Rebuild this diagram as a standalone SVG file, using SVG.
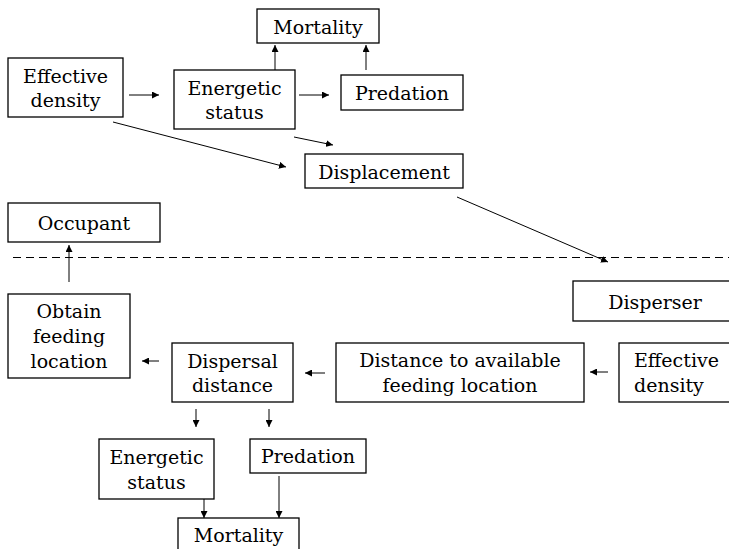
<svg xmlns="http://www.w3.org/2000/svg" width="729" height="549" viewBox="0 0 729 549">
<defs>
<marker id="ah" viewBox="0 0 10 10" refX="10" refY="5" markerWidth="7" markerHeight="7" markerUnits="userSpaceOnUse" orient="auto">
<path d="M0,0 L10,5 L0,10 z" fill="#000"/>
</marker>
</defs>
<rect x="0" y="0" width="729" height="549" fill="#fff"/>
<line x1="13" y1="257.5" x2="729" y2="257.5" stroke="#000" stroke-width="1" stroke-dasharray="8 5"/>
<g fill="#fff" stroke="#000" stroke-width="1.3">
<g id="mortality-top"><rect x="257" y="9" width="122" height="34"/><text font-family="DejaVu Serif" font-size="19" text-anchor="middle" fill="#000" stroke="none" x="318" y="34">Mortality</text></g>
<g id="effective-density-top"><rect x="8" y="58" width="115" height="59"/><text font-family="DejaVu Serif" font-size="19" text-anchor="middle" fill="#000" stroke="none" x="65.5" y="83">Effective</text><text font-family="DejaVu Serif" font-size="19" text-anchor="middle" fill="#000" stroke="none" x="65.5" y="107">density</text></g>
<g id="energetic-status-top"><rect x="174" y="70" width="121" height="59"/><text font-family="DejaVu Serif" font-size="19" text-anchor="middle" fill="#000" stroke="none" x="234.5" y="95">Energetic</text><text font-family="DejaVu Serif" font-size="19" text-anchor="middle" fill="#000" stroke="none" x="234.5" y="119">status</text></g>
<g id="predation-top"><rect x="341" y="75" width="122" height="35"/><text font-family="DejaVu Serif" font-size="19" text-anchor="middle" fill="#000" stroke="none" x="402" y="100">Predation</text></g>
<g id="displacement"><rect x="305" y="154" width="158" height="34"/><text font-family="DejaVu Serif" font-size="19" text-anchor="middle" fill="#000" stroke="none" x="384" y="179">Displacement</text></g>
<g id="occupant"><rect x="8" y="203" width="152" height="39"/><text font-family="DejaVu Serif" font-size="19" text-anchor="middle" fill="#000" stroke="none" x="84" y="230">Occupant</text></g>
<g id="disperser"><rect x="573" y="281" width="165" height="40"/><text font-family="DejaVu Serif" font-size="19" text-anchor="middle" fill="#000" stroke="none" x="655" y="309">Disperser</text></g>
<g id="obtain-feeding-location"><rect x="8" y="294" width="122" height="84"/><text font-family="DejaVu Serif" font-size="19" text-anchor="middle" fill="#000" stroke="none" x="69" y="318">Obtain</text><text font-family="DejaVu Serif" font-size="19" text-anchor="middle" fill="#000" stroke="none" x="69" y="343">feeding</text><text font-family="DejaVu Serif" font-size="19" text-anchor="middle" fill="#000" stroke="none" x="69" y="368">location</text></g>
<g id="dispersal-distance"><rect x="172" y="343" width="121" height="59"/><text font-family="DejaVu Serif" font-size="19" text-anchor="middle" fill="#000" stroke="none" x="232.5" y="368">Dispersal</text><text font-family="DejaVu Serif" font-size="19" text-anchor="middle" fill="#000" stroke="none" x="232.5" y="392">distance</text></g>
<g id="distance-to-feeding"><rect x="336" y="343" width="248" height="59"/><text font-family="DejaVu Serif" font-size="19" text-anchor="middle" fill="#000" stroke="none" x="460" y="367">Distance to available</text><text font-family="DejaVu Serif" font-size="19" text-anchor="middle" fill="#000" stroke="none" x="460" y="392">feeding location</text></g>
<g id="effective-density-bottom"><rect x="619" y="343" width="116" height="59"/><text font-family="DejaVu Serif" font-size="19" fill="#000" stroke="none" x="634" y="367">Effective</text><text font-family="DejaVu Serif" font-size="19" fill="#000" stroke="none" x="634" y="392">density</text></g>
<g id="energetic-status-bottom"><rect x="99" y="439" width="115" height="60"/><text font-family="DejaVu Serif" font-size="19" text-anchor="middle" fill="#000" stroke="none" x="156.5" y="464">Energetic</text><text font-family="DejaVu Serif" font-size="19" text-anchor="middle" fill="#000" stroke="none" x="156.5" y="489">status</text></g>
<g id="predation-bottom"><rect x="250" y="439" width="116" height="34"/><text font-family="DejaVu Serif" font-size="19" text-anchor="middle" fill="#000" stroke="none" x="308" y="463">Predation</text></g>
<g id="mortality-bottom"><rect x="178" y="518" width="121" height="40"/><text font-family="DejaVu Serif" font-size="19" text-anchor="middle" fill="#000" stroke="none" x="238.5" y="542">Mortality</text></g>
</g>
<g id="connectors" stroke="#000" stroke-width="1" marker-end="url(#ah)">
<line x1="129" y1="95" x2="159" y2="95"/>
<line x1="299" y1="95" x2="329" y2="95"/>
<line x1="275" y1="70" x2="275" y2="45"/>
<line x1="366" y1="70" x2="366" y2="45"/>
<line x1="294" y1="137" x2="333" y2="145"/>
<line x1="113" y1="122" x2="286" y2="167"/>
<line x1="457" y1="197" x2="608" y2="262"/>
<line x1="69" y1="282" x2="69" y2="245"/>
<line x1="159" y1="361" x2="142" y2="361"/>
<line x1="325" y1="373" x2="305" y2="373"/>
<line x1="608" y1="372" x2="590" y2="372"/>
<line x1="196" y1="409" x2="196" y2="427"/>
<line x1="269" y1="409" x2="269" y2="427"/>
<line x1="204" y1="499" x2="204" y2="518"/>
<line x1="279" y1="476" x2="279" y2="518"/>
</g>
</svg>
